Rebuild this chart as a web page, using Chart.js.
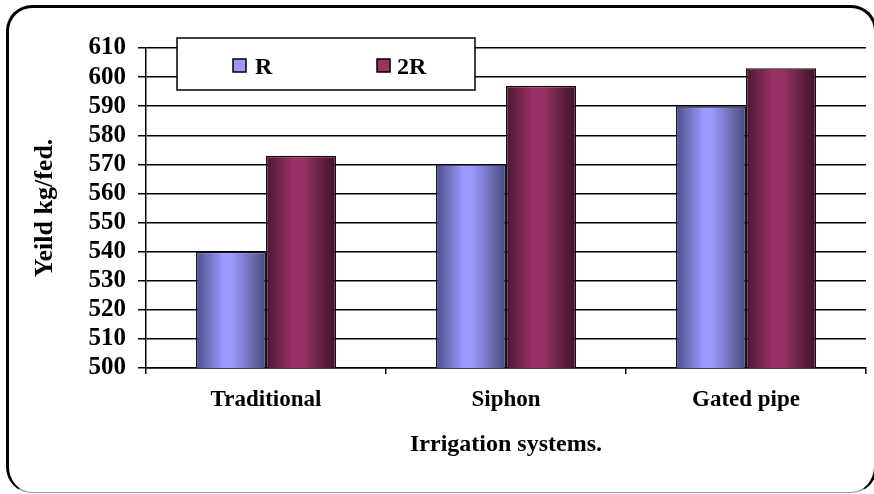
<!DOCTYPE html>
<html>
<head>
<meta charset="utf-8">
<script src="https://cdn.jsdelivr.net/npm/chart.js@4.4.1/dist/chart.umd.min.js"></script>
<style>
  html, body { margin: 0; padding: 0; background: #ffffff; }
  #wrap { position: relative; width: 874px; height: 494px; overflow: hidden; background: #ffffff; }
  #frame { position: absolute; left: 6px; top: 5px; width: 871px; height: 488px; box-sizing: border-box;
           border-top: 3px solid #000; border-left: 3px solid #000; border-right: 3px solid #000;
           border-bottom: 1px solid #9a9a9a; border-radius: 26px; }
  canvas { position: absolute; left: 0; top: 0; }
</style>
</head>
<body>
<div id="wrap">
  <div id="frame"></div>
  <canvas id="c" width="874" height="494"></canvas>
</div>
<script>
// ---- data ----
const categories = ['Traditional', 'Siphon', 'Gated pipe'];
const seriesNames = ['R', '2R'];
const valuesR = [540, 570, 590];
const values2R = [573, 597, 603];
const yMin = 500;
const yMax = 610;
const yStep = 10;
const xTitle = 'Irrigation systems.';
const yTitle = 'Yeild kg/fed.';

// ---- style ----
const CAT_PCT = 140 / 240;
const palette = [
  { light: '#9999ff', dark1: '#4c4f86', dark2: '#484a7c', border: '#15152a' },
  { light: '#993366', dark1: '#4a1832', dark2: '#3e1228', border: '#200812' }
];
const FONT = "'Liberation Serif', 'Times New Roman', serif";

function barFill(ctx) {
  const p = palette[ctx.datasetIndex];
  const chart = ctx.chart;
  const xs = chart.scales && chart.scales.x;
  if (ctx.dataIndex === undefined || !xs || !isFinite(xs.width) || xs.width <= 0) return p.light;
  const center = xs.getPixelForValue(ctx.dataIndex);
  const catW = xs.width / categories.length;
  const groupW = catW * CAT_PCT;
  const barW = groupW / seriesNames.length;
  const left = center - groupW / 2 + ctx.datasetIndex * barW;
  const g = chart.ctx.createLinearGradient(left, 0, left + barW, 0);
  g.addColorStop(0, p.dark1);
  g.addColorStop(0.38, p.light);
  g.addColorStop(0.52, p.light);
  g.addColorStop(1, p.dark2);
  return g;
}

const legendBox = {
  id: 'legendBox',
  afterDraw(chart) {
    const c = chart.ctx;
    c.save();
    c.fillStyle = '#ffffff';
    c.fillRect(177, 38, 298, 52);
    c.strokeStyle = '#000';
    c.lineWidth = 1.5;
    c.strokeRect(177, 38, 298, 52);
    const items = [{ sx: 233, tx: 255 }, { sx: 377, tx: 397 }];
    chart.data.datasets.forEach((ds, i) => {
      const it = items[i];
      const p = palette[i];
      c.fillStyle = p.light;
      c.fillRect(it.sx, 59, 13, 13);
      c.strokeStyle = '#000';
      c.lineWidth = 1.5;
      c.strokeRect(it.sx, 59, 13, 13);
      c.fillStyle = '#000';
      c.font = 'bold 24px ' + FONT;
      c.textBaseline = 'alphabetic';
      c.textAlign = 'left';
      c.fillText(ds.label, it.tx, 74);
    });
    c.restore();
  }
};

new Chart(document.getElementById('c'), {
  type: 'bar',
  data: {
    labels: categories,
    datasets: [
      { label: seriesNames[0], data: valuesR, backgroundColor: barFill, borderColor: palette[0].border, borderWidth: 1.5 },
      { label: seriesNames[1], data: values2R, backgroundColor: barFill, borderColor: palette[1].border, borderWidth: 1.5 }
    ]
  },
  options: {
    responsive: false,
    animation: false,
    devicePixelRatio: 1,
    layout: { padding: { left: 0, right: 8, top: 48, bottom: 20 } },
    datasets: { bar: { categoryPercentage: CAT_PCT, barPercentage: 1 } },
    plugins: { legend: { display: false }, tooltip: { enabled: false } },
    scales: {
      x: {
        afterFit(s) { s.height = 106; },
        grid: { display: true, drawOnChartArea: false, drawTicks: true, tickLength: 6, color: '#000', lineWidth: 1.5, offset: true },
        border: { display: true, color: '#000', width: 1.5 },
        ticks: { color: '#000', font: { family: FONT, size: 23, weight: 'bold' }, padding: 12, maxRotation: 0, autoSkip: false },
        title: { display: true, text: xTitle, color: '#000', font: { family: FONT, size: 24, weight: 'bold' }, padding: { top: 0, bottom: 15 } }
      },
      y: {
        min: yMin, max: yMax,
        afterFit(s) { s.width = 146; },
        grid: { display: true, drawOnChartArea: true, drawTicks: true, tickLength: 8, color: '#000', lineWidth: 1.5 },
        border: { display: true, color: '#000', width: 1.5 },
        ticks: { stepSize: yStep, autoSkip: false, color: '#000', font: { family: FONT, size: 25, weight: 'bold' }, padding: 12 },
        title: { display: true, text: yTitle, color: '#000', font: { family: FONT, size: 26, weight: 'bold' }, padding: { top: 30, bottom: 0 } }
      }
    }
  },
  plugins: [legendBox]
});
</script>
</body>
</html>
